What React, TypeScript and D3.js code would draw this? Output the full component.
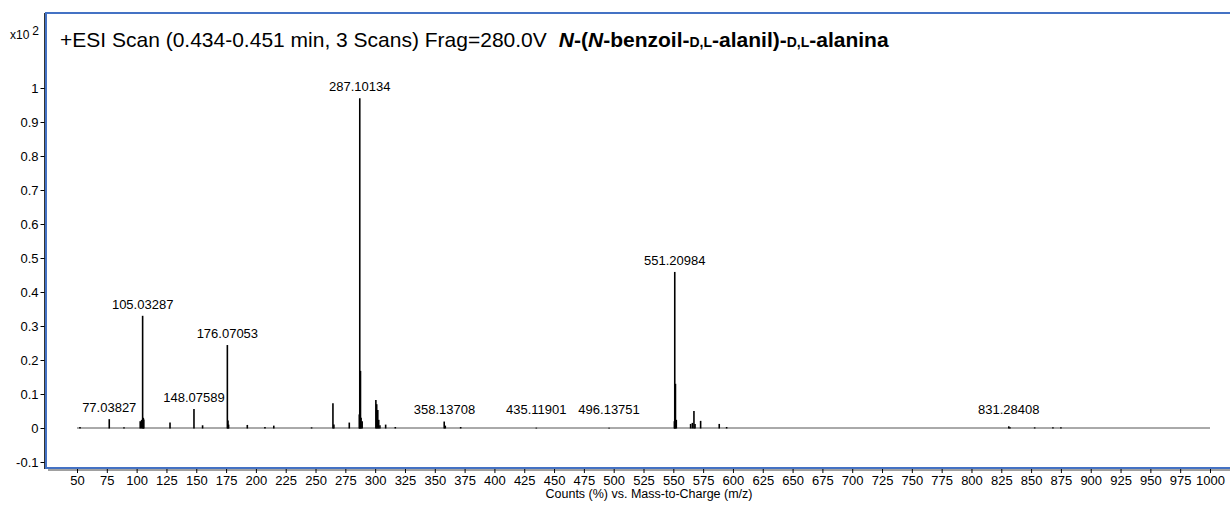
import React, { useEffect, useRef } from 'react';
import * as d3 from 'd3';

// peak list (intensity in units of x10^2 counts %)
const peakMz = [
  52.5, 77.04, 89.4, 103.0, 104.2, 105.03, 105.6, 106.0, 128.0, 148.08, 155.3, 176.07, 176.6, 177.1,
  192.8, 207.6, 215.0, 246.7, 264.6, 265.4, 278.3, 286.7, 287.1, 287.7, 288.2, 289.1, 300.6, 301.3,
  302.2, 303.0, 304.0, 308.8, 316.9, 357.9, 358.8, 371.7, 435.12, 496.14, 550.9, 551.21, 551.8, 552.5,
  564.5, 566.0, 567.3, 568.2, 572.9, 588.5, 594.7, 831.28, 832.3, 853.0, 868.3, 875.0,
];
const peakIntensity = [
  0.003, 0.026, 0.002, 0.02, 0.024, 0.33, 0.03, 0.025, 0.016, 0.056, 0.008, 0.244, 0.022, 0.01,
  0.009, 0.003, 0.007, 0.002, 0.073, 0.01, 0.016, 0.04, 0.97, 0.168, 0.03, 0.02, 0.082, 0.07,
  0.053, 0.024, 0.008, 0.01, 0.003, 0.019, 0.007, 0.003, 0.001, 0.001, 0.02, 0.459, 0.13, 0.024,
  0.012, 0.015, 0.05, 0.012, 0.021, 0.012, 0.003, 0.005, 0.002, 0.002, 0.002, 0.002,
];
const labelMz = [
  77.03827, 105.03287, 148.07589, 176.07053, 287.10134, 358.13708, 435.11901, 496.13751, 551.20984,
  831.28408,
];
const yTicks = [-0.1, 0, 0.1, 0.2, 0.3, 0.4, 0.5, 0.6, 0.7, 0.8, 0.9, 1];
const xTicks = d3.range(50, 1001, 25);

const titleText = '+ESI Scan (0.434-0.451 min, 3 Scans) Frag=280.0V';
const xTitle = 'Counts (%) vs. Mass-to-Charge (m/z)';

const W = 1230;
const H = 505;
const FONT = '"Liberation Sans", Arial, sans-serif';

const App: React.FC = () => {
  const svgRef = useRef<SVGSVGElement>(null);

  useEffect(() => {
    if (!svgRef.current) return;
    const svg = d3.select(svgRef.current);
    svg.selectAll('*').remove();

    const x = d3.scaleLinear().domain([50, 1000]).range([77, 1210]);
    const y = d3.scaleLinear().domain([0, 1]).range([428, 88]);

    const frameTop = 13;
    const frameBottom = 468;
    const frameLeft = 46;

    // frame with shadow
    svg.append('line')
      .attr('x1', frameLeft + 2).attr('x2', W)
      .attr('y1', frameBottom + 2).attr('y2', frameBottom + 2)
      .attr('stroke', '#a0a0a0').attr('stroke-width', 2);
    svg.append('rect')
      .attr('x', frameLeft).attr('y', frameTop)
      .attr('width', W + 10 - frameLeft).attr('height', frameBottom - frameTop)
      .attr('fill', 'none').attr('stroke', '#4472c4').attr('stroke-width', 2);
    svg.append('line')
      .attr('x1', frameLeft - 1.5).attr('x2', frameLeft - 1.5)
      .attr('y1', frameTop).attr('y2', frameBottom + 1)
      .attr('stroke', '#333').attr('stroke-width', 1);

    // y axis
    const yAxis = d3.axisLeft(y)
      .tickValues(yTicks)
      .tickSize(4)
      .tickPadding(2)
      .tickFormat(d => String(+(+d).toFixed(1)));
    const gy = svg.append('g')
      .attr('transform', `translate(${frameLeft - 1.5},0)`)
      .call(yAxis);
    gy.select('.domain').remove();
    gy.selectAll('text').attr('font-family', FONT).attr('font-size', 13).attr('fill', '#000');
    gy.selectAll('line').attr('stroke', '#000');

    // x axis
    const xAxis = d3.axisBottom(x).tickValues(xTicks).tickSize(4).tickPadding(3)
      .tickFormat(d => String(d));
    const gx = svg.append('g')
      .attr('transform', `translate(0,${frameBottom + 1})`)
      .call(xAxis);
    gx.select('.domain').remove();
    gx.selectAll('text').attr('font-family', FONT).attr('font-size', 13).attr('fill', '#000');
    gx.selectAll('line').attr('stroke', '#000');

    svg.append('text')
      .attr('x', 649).attr('y', 498)
      .attr('text-anchor', 'middle')
      .attr('font-family', FONT).attr('font-size', 12.5)
      .text(xTitle);

    // multiplier
    const mult = svg.append('text')
      .attr('x', 10).attr('y', 39)
      .attr('font-family', FONT).attr('font-size', 12);
    mult.append('tspan').text('x10');
    mult.append('tspan').attr('dx', 3).attr('dy', -4).text('2');

    // title
    const title = svg.append('text')
      .attr('x', 60).attr('y', 47)
      .attr('font-family', FONT).attr('font-size', 21).attr('fill', '#000');
    title.append('tspan').text(titleText);
    const bold = (s: string, opts: { italic?: boolean; small?: boolean; dx?: number } = {}) => {
      const t = title.append('tspan').attr('font-weight', 'bold').text(s);
      if (opts.italic) t.attr('font-style', 'italic');
      if (opts.small) t.attr('font-size', 14);
      if (opts.dx) t.attr('dx', opts.dx);
    };
    bold('N', { italic: true, dx: 12 });
    bold('-(');
    bold('N', { italic: true });
    bold('-benzoil-');
    bold('D,L', { small: true });
    bold('-alanil)-');
    bold('D,L', { small: true });
    bold('-alanina');

    // baseline
    svg.append('line')
      .attr('x1', x(50)).attr('x2', x(1000))
      .attr('y1', y(0)).attr('y2', y(0))
      .attr('stroke', '#555').attr('stroke-width', 1);

    // peaks
    svg.append('g')
      .selectAll('line')
      .data(peakMz.map((m, i) => ({ m, v: peakIntensity[i] })))
      .join('line')
      .attr('x1', d => x(d.m)).attr('x2', d => x(d.m))
      .attr('y1', y(0) + 0.5).attr('y2', d => y(d.v))
      .attr('stroke', '#000').attr('stroke-width', 1.6);

    // peak labels
    const nearestIntensity = (m: number) => {
      let best = 0;
      let bestD = Infinity;
      peakMz.forEach((p, i) => {
        const dd = Math.abs(p - m);
        if (dd < bestD) { bestD = dd; best = peakIntensity[i]; }
      });
      return best;
    };
    svg.append('g')
      .selectAll('text')
      .data(labelMz)
      .join('text')
      .attr('x', d => x(d))
      .attr('y', d => y(Math.max(nearestIntensity(d), 0.02)) - 7)
      .attr('text-anchor', 'middle')
      .attr('font-family', FONT).attr('font-size', 13).attr('fill', '#000')
      .text(d => d.toFixed(5));
  }, []);

  return (
    <svg
      ref={svgRef}
      width={W}
      height={H}
      viewBox={`0 0 ${W} ${H}`}
      style={{ position: 'absolute', left: 0, top: 0, background: '#fff' }}
    />
  );
};

export default App;
